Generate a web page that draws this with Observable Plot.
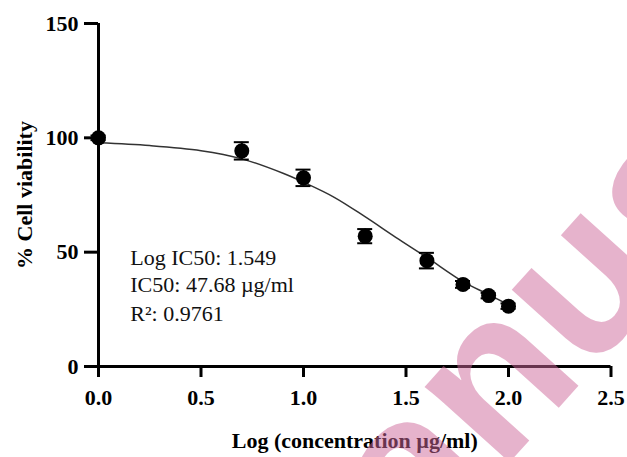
<!DOCTYPE html>
<html>
<head>
<meta charset="utf-8">
<script src="https://cdn.jsdelivr.net/npm/d3@7"></script>
<script src="https://cdn.jsdelivr.net/npm/@observablehq/plot@0.6"></script>
<style>
  html, body { margin: 0; padding: 0; background: white; }
  #wrap { position: relative; width: 627px; height: 457px; overflow: hidden; background: white; }
  #wm { position: absolute; left: 532px; top: 326px; transform: translate(-50%, -50%) rotate(-48deg);
        font-family: "Liberation Sans", Arial, sans-serif; font-weight: bold; font-size: 215px; line-height: 1;
        color: rgb(207,105,155); opacity: 0.5; white-space: nowrap; pointer-events: none; }
</style>
</head>
<body>
<div id="wrap"><div id="chart"></div><div id="wm">anus</div></div>
<script>
// Measured points (log concentration, % viability, error)
const logConc   = [0, 0.699, 1.0, 1.301, 1.602, 1.778, 1.903, 2.0];
const viability = [100, 94.3, 82.5, 57.0, 46.3, 35.9, 31.0, 26.4];
const errorSD   = [1.0, 3.8, 3.6, 3.1, 3.4, 1.5, 1.2, 1.2];

// Fitted curve
const curveX = [0, 0.25, 0.5, 0.7, 0.9, 1.0, 1.15, 1.3, 1.45, 1.6, 1.78, 1.9, 2.0];
const curveY = [97.8, 96.6, 94.4, 90.8, 84.5, 80.6, 74.0, 65.5, 56.5, 47.8, 37.0, 31.6, 27.0];

const xTicks = [0, 0.5, 1.0, 1.5, 2.0, 2.5];
const yTicks = [0, 50, 100, 150];

const annotLines = ["Log IC50: 1.549", "IC50: 47.68 µg/ml", "R²: 0.9761"];
const annotX = 0.155;
const annotY = [47.4, 35.6, 22.8];

const xLabel = "Log (concentration µg/ml)";
const yLabel = "% Cell viability";

const pts = logConc.map((x, i) => ({x, y: viability[i], lo: viability[i] - errorSD[i], hi: viability[i] + errorSD[i]}));
const fit = curveX.map((x, i) => ({x, y: curveY[i]}));
const annot = annotLines.map((t, i) => ({t, x: annotX, y: annotY[i]}));

const serif = "'Liberation Serif', 'Times New Roman', serif";

const chart = Plot.plot({
  width: 627, height: 457,
  marginLeft: 98, marginRight: 16.5, marginTop: 23, marginBottom: 91,
  x: {domain: [0, 2.5]},
  y: {domain: [0, 150]},
  style: {fontFamily: serif, fontSize: "22px", color: "black", background: "white"},
  marks: [
    Plot.axisX({ticks: xTicks, tickFormat: d3.format(".1f"), tickSize: 11, tickPadding: 12, strokeWidth: 3,
                fontSize: 22, fontWeight: "bold", fontFamily: serif, label: null}),
    Plot.axisY({ticks: yTicks, tickSize: 14, tickPadding: 6, strokeWidth: 3,
                fontSize: 22, fontWeight: "bold", fontFamily: serif, label: null}),
    Plot.ruleY([0], {x1: 0, x2: 2.5, strokeWidth: 3, stroke: "black"}),
    Plot.ruleX([0], {y1: 0, y2: 150, strokeWidth: 3, stroke: "black"}),
    Plot.line(fit, {x: "x", y: "y", curve: "catmull-rom", stroke: "#333", strokeWidth: 1.5}),
    Plot.ruleX(pts, {x: "x", y1: "lo", y2: "hi", stroke: "black", strokeWidth: 2}),
    Plot.ruleY(pts, {x1: "x", x2: "x", y: "hi", insetLeft: -7.5, insetRight: -7.5, stroke: "black", strokeWidth: 2}),
    Plot.ruleY(pts, {x1: "x", x2: "x", y: "lo", insetLeft: -7.5, insetRight: -7.5, stroke: "black", strokeWidth: 2}),
    Plot.dot(pts, {x: "x", y: "y", r: 7.5, fill: "black", stroke: "none"}),
    Plot.text(annot, {x: "x", y: "y", text: "t", textAnchor: "start", lineAnchor: "middle",
                      fontSize: 22, fontWeight: "normal", fontFamily: serif, fill: "#111"}),
    Plot.text([xLabel], {frameAnchor: "bottom", dy: 74, textAnchor: "middle", lineAnchor: "middle",
                         fontSize: 22, fontWeight: "bold", fontFamily: serif, fill: "black"}),
    Plot.text([yLabel], {frameAnchor: "left", dx: -74, rotate: -90, textAnchor: "middle", lineAnchor: "middle",
                         fontSize: 22, fontWeight: "bold", fontFamily: serif, fill: "black"})
  ]
});
document.getElementById("chart").appendChild(chart);
</script>
</body>
</html>
